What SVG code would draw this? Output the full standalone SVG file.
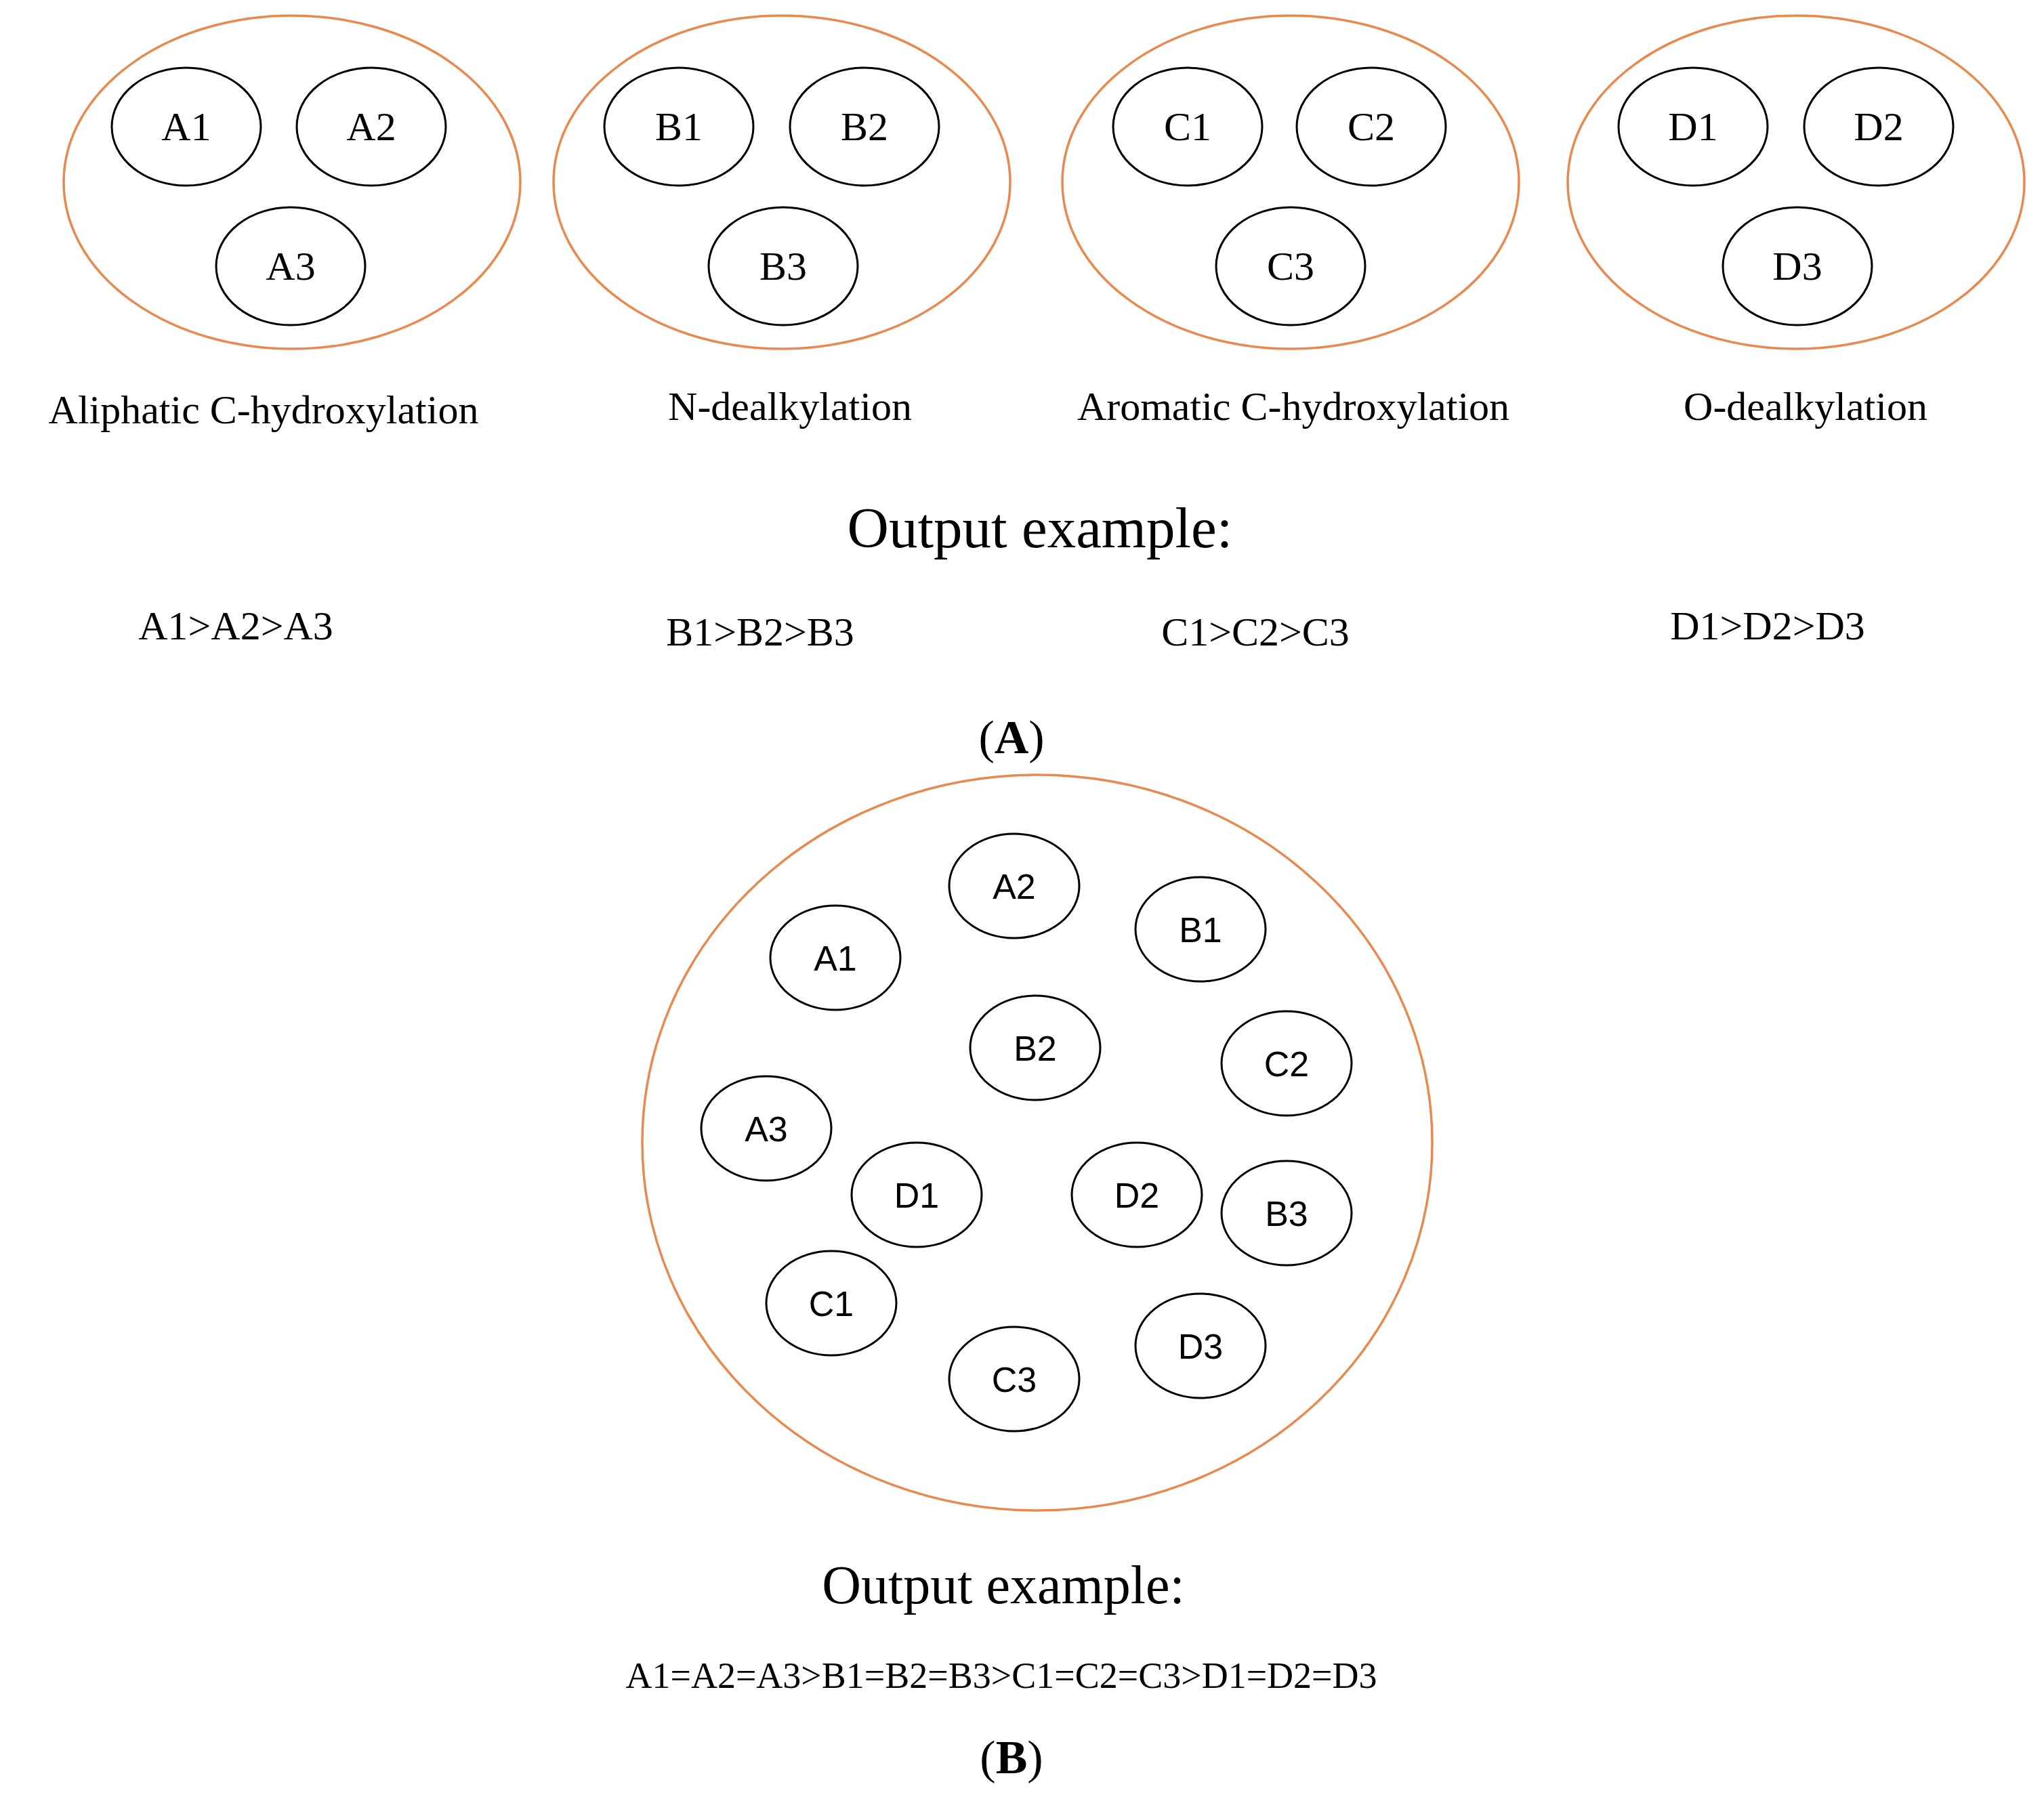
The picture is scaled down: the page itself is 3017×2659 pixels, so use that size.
<svg xmlns="http://www.w3.org/2000/svg" width="3017" height="2659" viewBox="0 0 3017 2659">
<style>
.o{fill:none;stroke:#E8894F;stroke-width:3.5}
.n{fill:none;stroke:#000;stroke-width:3}
.s{font-family:"Liberation Serif",serif;fill:#000;text-anchor:middle}
.t{font-family:"Liberation Sans",sans-serif;fill:#000;text-anchor:middle;font-size:52px}
.l{font-size:60px}
</style>
<rect width="3017" height="2659" fill="#fff"/>
<g id="groupA">
<ellipse class="o" cx="431" cy="269" rx="337" ry="246"/>
<ellipse class="o" cx="1154" cy="269" rx="337" ry="246"/>
<ellipse class="o" cx="1905" cy="269" rx="337" ry="246"/>
<ellipse class="o" cx="2651" cy="269" rx="337" ry="246"/>
</g>
<g id="nodesA" class="s l">
<g id="A1"><ellipse class="n" cx="275" cy="187" rx="110" ry="87"/><text x="275" y="207">A1</text></g>
<g id="A2"><ellipse class="n" cx="548" cy="187" rx="110" ry="87"/><text x="548" y="207">A2</text></g>
<g id="A3"><ellipse class="n" cx="429" cy="393" rx="110" ry="87"/><text x="429" y="413">A3</text></g>
<g id="B1"><ellipse class="n" cx="1002" cy="187" rx="110" ry="87"/><text x="1002" y="207">B1</text></g>
<g id="B2"><ellipse class="n" cx="1276" cy="187" rx="110" ry="87"/><text x="1276" y="207">B2</text></g>
<g id="B3"><ellipse class="n" cx="1156" cy="393" rx="110" ry="87"/><text x="1156" y="413">B3</text></g>
<g id="C1"><ellipse class="n" cx="1753" cy="187" rx="110" ry="87"/><text x="1753" y="207">C1</text></g>
<g id="C2"><ellipse class="n" cx="2024" cy="187" rx="110" ry="87"/><text x="2024" y="207">C2</text></g>
<g id="C3"><ellipse class="n" cx="1905" cy="393" rx="110" ry="87"/><text x="1905" y="413">C3</text></g>
<g id="D1"><ellipse class="n" cx="2499" cy="187" rx="110" ry="87"/><text x="2499" y="207">D1</text></g>
<g id="D2"><ellipse class="n" cx="2773" cy="187" rx="110" ry="87"/><text x="2773" y="207">D2</text></g>
<g id="D3"><ellipse class="n" cx="2653" cy="393" rx="110" ry="87"/><text x="2653" y="413">D3</text></g>
</g>
<g id="labelsA" class="s l">
<text x="389" y="625">Aliphatic  C-hydroxylation</text>
<text x="1166" y="620">N-dealkylation</text>
<text x="1909" y="620">Aromatic  C-hydroxylation</text>
<text x="2665" y="620">O-dealkylation</text>
<text x="1535" y="808" font-size="85">Output  example:</text>
<text x="348" y="944">A1&gt;A2&gt;A3</text>
<text x="1122" y="953">B1&gt;B2&gt;B3</text>
<text x="1853" y="953">C1&gt;C2&gt;C3</text>
<text x="2609" y="944">D1&gt;D2&gt;D3</text>
<text x="1493" y="1112" font-size="70">(<tspan font-weight="bold">A</tspan>)</text>
</g>
<g id="groupB"><ellipse class="o" cx="1531" cy="1687" rx="583" ry="543"/></g>
<g id="nodesB" class="t">
<g id="bA2"><ellipse class="n" cx="1497" cy="1308" rx="96" ry="77"/><text x="1497" y="1327">A2</text></g>
<g id="bA1"><ellipse class="n" cx="1233" cy="1414" rx="96" ry="77"/><text x="1233" y="1433">A1</text></g>
<g id="bB1"><ellipse class="n" cx="1772" cy="1372" rx="96" ry="77"/><text x="1772" y="1391">B1</text></g>
<g id="bB2"><ellipse class="n" cx="1528" cy="1547" rx="96" ry="77"/><text x="1528" y="1566">B2</text></g>
<g id="bC2"><ellipse class="n" cx="1899" cy="1570" rx="96" ry="77"/><text x="1899" y="1589">C2</text></g>
<g id="bA3"><ellipse class="n" cx="1131" cy="1666" rx="96" ry="77"/><text x="1131" y="1685">A3</text></g>
<g id="bD1"><ellipse class="n" cx="1353" cy="1764" rx="96" ry="77"/><text x="1353" y="1783">D1</text></g>
<g id="bD2"><ellipse class="n" cx="1678" cy="1764" rx="96" ry="77"/><text x="1678" y="1783">D2</text></g>
<g id="bB3"><ellipse class="n" cx="1899" cy="1791" rx="96" ry="77"/><text x="1899" y="1810">B3</text></g>
<g id="bC1"><ellipse class="n" cx="1227" cy="1924" rx="96" ry="77"/><text x="1227" y="1943">C1</text></g>
<g id="bD3"><ellipse class="n" cx="1772" cy="1987" rx="96" ry="77"/><text x="1772" y="2006">D3</text></g>
<g id="bC3"><ellipse class="n" cx="1497" cy="2036" rx="96" ry="77"/><text x="1497" y="2055">C3</text></g>
</g>
<g id="labelsB" class="s">
<text x="1481" y="2367" font-size="80">Output  example:</text>
<text x="1478" y="2492" font-size="54">A1=A2=A3&gt;B1=B2=B3&gt;C1=C2=C3&gt;D1=D2=D3</text>
<text x="1493" y="2618" font-size="70">(<tspan font-weight="bold">B</tspan>)</text>
</g>
<g id="connectors"/>
</svg>
